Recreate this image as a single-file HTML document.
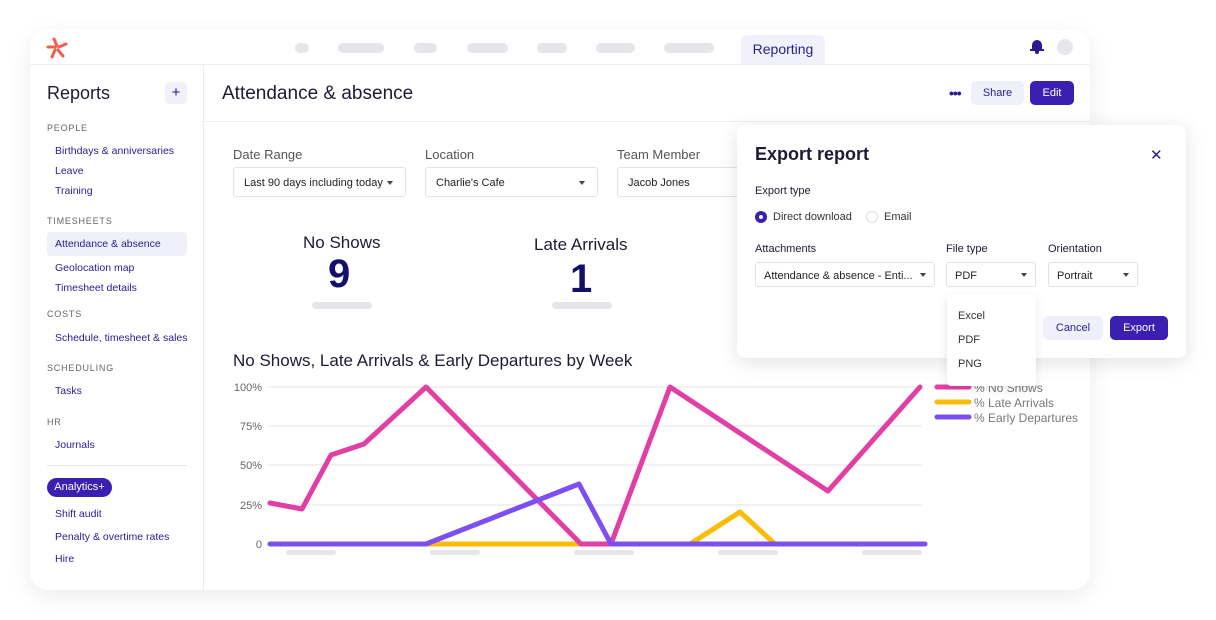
<!DOCTYPE html>
<html><head><meta charset="utf-8"><style>
*{box-sizing:border-box;margin:0;padding:0}
body{width:1216px;height:620px;background:#fff;font-family:"Liberation Sans",sans-serif;position:relative;overflow:hidden;color:#1c1b33}
.a{position:absolute}
.card{left:30px;top:30px;width:1060px;height:560px;border-radius:18px;background:#fff;box-shadow:0 6px 24px rgba(0,0,0,.08)}
.pill{background:#e6e6ea;border-radius:6px;height:10px}
.nav{color:#2b1b8f;font-size:10.5px;white-space:nowrap}
.sec{color:#666;font-size:9px;letter-spacing:.8px}
.lbl{font-size:13px;color:#555}
.sel{border:1px solid #e2e2e6;border-radius:3px;height:30px;font-size:11px;padding:9px 10px;color:#222;white-space:nowrap;overflow:hidden}
.car{position:absolute;right:12px;top:13px;border-left:3.5px solid transparent;border-right:3.5px solid transparent;border-top:4px solid #444}
</style></head><body>
<div class="a card"></div>
<!-- top nav -->
<svg class="a" style="left:46px;top:37px" width="22" height="22" viewBox="0 0 22 22"><g stroke="#f0604d" stroke-width="3" stroke-linecap="round" fill="none"><path d="M11 9 L8 2"/><path d="M13 10 L20 7"/><path d="M12 13 L17 19"/><path d="M9 13 L6 20"/><path d="M9 10 L2 10"/></g></svg>
<div class="a pill" style="left:295px;top:43px;width:14px"></div>
<div class="a pill" style="left:338px;top:43px;width:46px"></div>
<div class="a pill" style="left:414px;top:43px;width:23px"></div>
<div class="a pill" style="left:467px;top:43px;width:41px"></div>
<div class="a pill" style="left:537px;top:43px;width:30px"></div>
<div class="a pill" style="left:596px;top:43px;width:39px"></div>
<div class="a pill" style="left:664px;top:43px;width:50px"></div>
<div class="a" style="left:741px;top:35px;width:84px;height:30px;background:#f1f1fb;border-radius:6px 6px 0 0;color:#2b1b8f;font-size:14px;padding-top:6px;text-align:center">Reporting</div>
<div class="a" style="left:1032px;top:40px;width:10px;height:10px;background:#2b1b8f;border-radius:5px 5px 1px 1px"></div>
<div class="a" style="left:1030px;top:49px;width:14px;height:2px;background:#2b1b8f"></div>
<div class="a" style="left:1035px;top:51px;width:4px;height:3px;background:#2b1b8f;border-radius:0 0 2px 2px"></div>
<div class="a" style="left:1057px;top:39px;width:16px;height:16px;border-radius:50%;background:#e8e8ec"></div>
<div class="a" style="left:30px;top:64px;width:1060px;height:1px;background:#eee"></div>
<!-- sidebar -->
<div class="a" style="left:203px;top:65px;width:1px;height:525px;background:#eee"></div>
<div class="a" style="left:47px;top:83px;font-size:18px;font-weight:500">Reports</div>
<div class="a" style="left:165px;top:82px;width:22px;height:22px;border-radius:5px;background:#f0f0fa;color:#2b1b8f;text-align:center;font-size:15px;line-height:22px">+</div>
<div class="a sec" style="left:47px;top:123px">PEOPLE</div>
<div class="a nav" style="left:55px;top:145px">Birthdays &amp; anniversaries</div>
<div class="a nav" style="left:55px;top:165px">Leave</div>
<div class="a nav" style="left:55px;top:185px">Training</div>
<div class="a sec" style="left:47px;top:216px">TIMESHEETS</div>
<div class="a" style="left:47px;top:232px;width:140px;height:24px;background:#f0f0fb;border-radius:4px"></div>
<div class="a nav" style="left:55px;top:238px">Attendance &amp; absence</div>
<div class="a nav" style="left:55px;top:262px">Geolocation map</div>
<div class="a nav" style="left:55px;top:282px">Timesheet details</div>
<div class="a sec" style="left:47px;top:309px">COSTS</div>
<div class="a nav" style="left:55px;top:332px;width:133px;overflow:hidden">Schedule, timesheet &amp; sales...</div>
<div class="a sec" style="left:47px;top:363px">SCHEDULING</div>
<div class="a nav" style="left:55px;top:385px">Tasks</div>
<div class="a sec" style="left:47px;top:417px">HR</div>
<div class="a nav" style="left:55px;top:439px">Journals</div>
<div class="a" style="left:47px;top:465px;width:140px;height:1px;background:#e6e6ea"></div>
<div class="a" style="left:47px;top:478px;width:65px;height:19px;border-radius:10px;background:#3a1fb0;color:#fff;font-size:11px;text-align:center;line-height:19px">Analytics+</div>
<div class="a nav" style="left:55px;top:508px">Shift audit</div>
<div class="a nav" style="left:55px;top:531px">Penalty &amp; overtime rates</div>
<div class="a nav" style="left:55px;top:553px">Hire</div>
<!-- header -->
<div class="a" style="left:222px;top:83px;font-size:19px;font-weight:500">Attendance &amp; absence</div>
<div class="a" style="left:949px;top:85px;font-size:14px;color:#2b1b8f;letter-spacing:-1px;font-weight:bold">•••</div>
<div class="a" style="left:971px;top:81px;width:53px;height:24px;border-radius:5px;background:#f0f0fa;color:#2b1b8f;font-size:11px;text-align:center;line-height:24px">Share</div>
<div class="a" style="left:1030px;top:81px;width:44px;height:24px;border-radius:5px;background:#3a1fb0;color:#fff;font-size:11px;text-align:center;line-height:24px">Edit</div>
<div class="a" style="left:204px;top:121px;width:886px;height:1px;background:#eee"></div>
<!-- filters -->
<div class="a lbl" style="left:233px;top:147px">Date Range</div>
<div class="a lbl" style="left:425px;top:147px">Location</div>
<div class="a lbl" style="left:617px;top:147px">Team Member</div>
<div class="a sel" style="left:233px;top:167px;width:173px">Last 90 days including today<span class="car"></span></div>
<div class="a sel" style="left:425px;top:167px;width:173px">Charlie's Cafe<span class="car"></span></div>
<div class="a sel" style="left:617px;top:167px;width:130px">Jacob Jones</div>
<!-- stats -->
<div class="a" style="left:303px;top:233px;font-size:17px;font-weight:500">No Shows</div>
<div class="a" style="left:328px;top:252px;font-size:40px;font-weight:bold;color:#12106b">9</div>
<div class="a pill" style="left:312px;top:302px;width:60px;height:7px"></div>
<div class="a" style="left:534px;top:235px;font-size:17px;font-weight:500">Late Arrivals</div>
<div class="a" style="left:570px;top:257px;font-size:40px;font-weight:bold;color:#12106b">1</div>
<div class="a pill" style="left:552px;top:302px;width:60px;height:7px"></div>
<!-- chart -->
<div class="a" style="left:233px;top:351px;font-size:17px;font-weight:500">No Shows, Late Arrivals &amp; Early Departures by Week</div>
<svg class="a" style="left:0;top:0" width="1216" height="620">
<g stroke="#ededf0" stroke-width="1.5"><line x1="268" y1="387" x2="922" y2="387"/><line x1="268" y1="426" x2="922" y2="426"/><line x1="268" y1="465" x2="922" y2="465"/><line x1="268" y1="505" x2="922" y2="505"/></g>
<g font-size="11" fill="#666" text-anchor="end" font-family="Liberation Sans"><text x="262" y="391">100%</text><text x="262" y="430">75%</text><text x="262" y="469">50%</text><text x="262" y="509">25%</text><text x="262" y="548">0</text></g>
<g fill="none" stroke-width="5" stroke-linecap="round" stroke-linejoin="round">
<polyline stroke="#fbbc05" points="426,544 581,544"/>
<polyline stroke="#fbbc05" points="690,544 740,512 775,544"/>
<polyline stroke="#e23fa5" points="270,503 302,509 331,455 364,444 426,387 581,544 611,544 670,387 828,491 920,387"/>
<polyline stroke="#7b4ff0" points="270,544 426,544 579,484 611,544 925,544"/>
</g>
<g fill="#e6e6ea"><rect x="286" y="550" width="50" height="5" rx="2.5"/><rect x="430" y="550" width="50" height="5" rx="2.5"/><rect x="574" y="550" width="60" height="5" rx="2.5"/><rect x="718" y="550" width="60" height="5" rx="2.5"/><rect x="862" y="550" width="60" height="5" rx="2.5"/></g>
<g stroke-width="5" stroke-linecap="round"><line x1="937" y1="387" x2="969" y2="387" stroke="#e23fa5"/><line x1="937" y1="402" x2="969" y2="402" stroke="#fbbc05"/><line x1="937" y1="417" x2="969" y2="417" stroke="#7b4ff0"/></g>
<g font-size="12" fill="#777" font-family="Liberation Sans"><text x="974" y="392">% No Shows</text><text x="974" y="407">% Late Arrivals</text><text x="974" y="422">% Early Departures</text></g>
</svg>
<!-- modal -->
<div class="a" style="left:737px;top:125px;width:449px;height:233px;background:#fff;border-radius:8px;box-shadow:0 4px 20px rgba(0,0,0,.12)"></div>
<div class="a" style="left:755px;top:144px;font-size:18px;font-weight:bold">Export report</div>
<div class="a" style="left:1150px;top:146px;font-size:15px;color:#2b1b8f">✕</div>
<div class="a" style="left:755px;top:185px;font-size:11px;font-weight:500">Export type</div>
<div class="a" style="left:755px;top:211px;width:12px;height:12px;border-radius:50%;background:#3a1fb0"></div>
<div class="a" style="left:759px;top:215px;width:4px;height:4px;border-radius:50%;background:#fff"></div>
<div class="a" style="left:773px;top:211px;font-size:11px;color:#333">Direct download</div>
<div class="a" style="left:866px;top:211px;width:12px;height:12px;border-radius:50%;border:1px solid #ddd"></div>
<div class="a" style="left:884px;top:211px;font-size:11px;color:#333">Email</div>
<div class="a" style="left:755px;top:243px;font-size:11px;font-weight:500">Attachments</div>
<div class="a" style="left:946px;top:243px;font-size:11px;font-weight:500">File type</div>
<div class="a" style="left:1048px;top:243px;font-size:11px;font-weight:500">Orientation</div>
<div class="a sel" style="left:755px;top:262px;width:180px;height:25px;padding:7px 8px">Attendance &amp; absence - Enti...<span class="car" style="top:10px;right:8px"></span></div>
<div class="a sel" style="left:946px;top:262px;width:90px;height:25px;padding:7px 8px">PDF<span class="car" style="top:10px;right:8px"></span></div>
<div class="a sel" style="left:1048px;top:262px;width:90px;height:25px;padding:7px 8px">Portrait<span class="car" style="top:10px;right:8px"></span></div>
<div class="a" style="left:1043px;top:316px;width:60px;height:24px;border-radius:5px;background:#f0f0fa;color:#2b1b8f;font-size:11px;text-align:center;line-height:24px">Cancel</div>
<div class="a" style="left:1110px;top:316px;width:58px;height:24px;border-radius:5px;background:#3a1fb0;color:#fff;font-size:11px;text-align:center;line-height:24px">Export</div>
<div class="a" style="left:947px;top:294px;width:89px;height:92px;background:#fff;border-radius:4px;box-shadow:0 3px 10px rgba(0,0,0,.1)"></div>
<div class="a" style="left:958px;top:310px;font-size:11px;color:#333">Excel</div>
<div class="a" style="left:958px;top:334px;font-size:11px;color:#333">PDF</div>
<div class="a" style="left:958px;top:358px;font-size:11px;color:#333">PNG</div>
</body></html>
